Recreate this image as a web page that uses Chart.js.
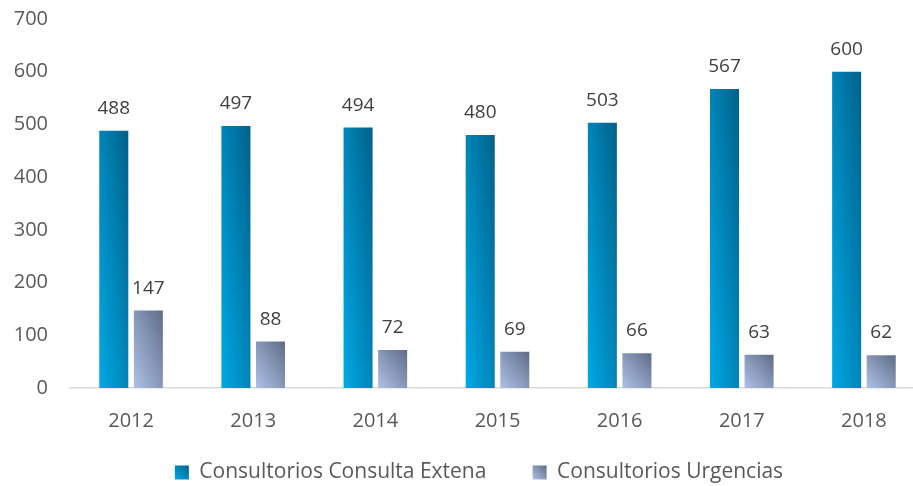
<!DOCTYPE html>
<html>
<head>
<meta charset="utf-8">
<script src="https://cdn.jsdelivr.net/npm/chart.js@4"></script>
<style>
  html, body { margin: 0; padding: 0; background: #fff; overflow: hidden; }
  .wrap { width: 958px; height: 486px; }
</style>
</head>
<body>
<div class="wrap"><canvas id="myChart" width="958" height="486"></canvas></div>
<script>
// Values
const years = ["2012", "2013", "2014", "2015", "2016", "2017", "2018"];
const consultaExterna = [488, 497, 494, 480, 503, 567, 600];
const urgencias = [147, 88, 72, 69, 66, 63, 62];
const seriesNames = ["Consultorios Consulta Extena", "Consultorios Urgencias"];
const yTicks = [0, 100, 200, 300, 400, 500, 600, 700];

// light (bottom-left) to dark (top-right) for each series
const shades = [
  ["#00a9e6", "#00618a"],
  ["#aec2e6", "#5f6c88"],
];

const fontFamily = "'Open Sans', sans-serif";

// gradient scaled to a box (like office "linear 45deg")
const boxGradient = (ctx, left, bottom, w, h, i) => {
  const k = 2 / (1 / (w * w) + 1 / (h * h));
  const g = ctx.createLinearGradient(left, bottom, left + k / w, bottom - k / h);
  g.addColorStop(0, shades[i][0]);
  g.addColorStop(1, shades[i][1]);
  return g;
};

// paint every bar (and legend box) with its gradient, using the library's geometry
const barGradient = {
  id: "barGradient",
  beforeDatasetsDraw(chart) {
    const ctx = chart.ctx;
    chart.data.datasets.forEach((ds, i) => {
      chart.getDatasetMeta(i).data.forEach((bar) => {
        const w = bar.width;
        const h = Math.max(1, bar.base - bar.y);
        const g = boxGradient(ctx, bar.x - w / 2, bar.base, w, h, i);
        bar.options = Object.assign({}, bar.options, { backgroundColor: g });
      });
    });
  },
  beforeDraw(chart) {
    const legend = chart.legend;
    if (!legend || !legend.legendHitBoxes) return;
    legend.legendItems.forEach((item, i) => {
      const hb = legend.legendHitBoxes[i];
      const top = hb.top + (hb.height - 14) / 2;
      item.fillStyle = boxGradient(chart.ctx, hb.left, top + 14, 14, 14, i);
    });
  },
};

// value labels above each bar
const valueLabels = {
  id: "valueLabels",
  afterDatasetsDraw(chart) {
    const ctx = chart.ctx;
    ctx.save();
    ctx.font = "19px " + fontFamily;
    ctx.fillStyle = "#404040";
    ctx.textAlign = "center";
    ctx.textBaseline = "alphabetic";
    chart.data.datasets.forEach((ds, i) => {
      chart.getDatasetMeta(i).data.forEach((bar, j) => {
        ctx.fillText(ds.data[j], bar.x, bar.y - 17);
      });
    });
    ctx.restore();
  },
};

// centre the legend under the whole picture, not only the plot
const legendShift = {
  id: "legendShift",
  afterLayout(chart) {
    if (chart.legend) {
      chart.legend.left = 33;
      chart.legend.right = 925;
      chart.legend.width = 892;
    }
  },
};

new Chart(document.getElementById("myChart"), {
  type: "bar",
  data: {
    labels: years,
    datasets: [
      { label: seriesNames[0], data: consultaExterna, backgroundColor: "#0088bb" },
      { label: seriesNames[1], data: urgencias, backgroundColor: "#8a9bbf" },
    ],
  },
  options: {
    responsive: false,
    animation: false,
    layout: { padding: { top: 0, right: 33, left: 0, bottom: -7 } },
    datasets: {
      bar: { categoryPercentage: 0.566, barPercentage: 0.84 },
    },
    scales: {
      x: {
        grid: { display: false, drawTicks: false },
        border: { color: "#d9d9d9", width: 1.5 },
        ticks: { color: "#595959", font: { family: fontFamily, size: 20 }, padding: 21 },
      },
      y: {
        min: 0,
        max: 700,
        afterBuildTicks(axis) {
          axis.ticks = yTicks.map((v) => ({ value: v }));
        },
        afterFit(axis) {
          axis.width = 70;
          axis.paddingTop = 19;
          axis.paddingBottom = 12;
        },
        grid: { display: false, drawTicks: false },
        border: { display: false },
        ticks: { color: "#595959", font: { family: fontFamily, size: 20 }, padding: 22 },
      },
    },
    plugins: {
      tooltip: { enabled: false },
      legend: {
        position: "bottom",
        labels: {
          color: "#595959",
          font: { family: fontFamily, size: 21 },
          boxWidth: 14,
          boxHeight: 14,
          padding: 8,
          generateLabels(chart) {
            const items = Chart.defaults.plugins.legend.labels.generateLabels(chart);
            // extra room after the first entry, like the original legend
            items[0].text = items[0].text + "       ";
            return items;
          },
        },
      },
    },
  },
  plugins: [barGradient, valueLabels, legendShift],
});
</script>
</body>
</html>
